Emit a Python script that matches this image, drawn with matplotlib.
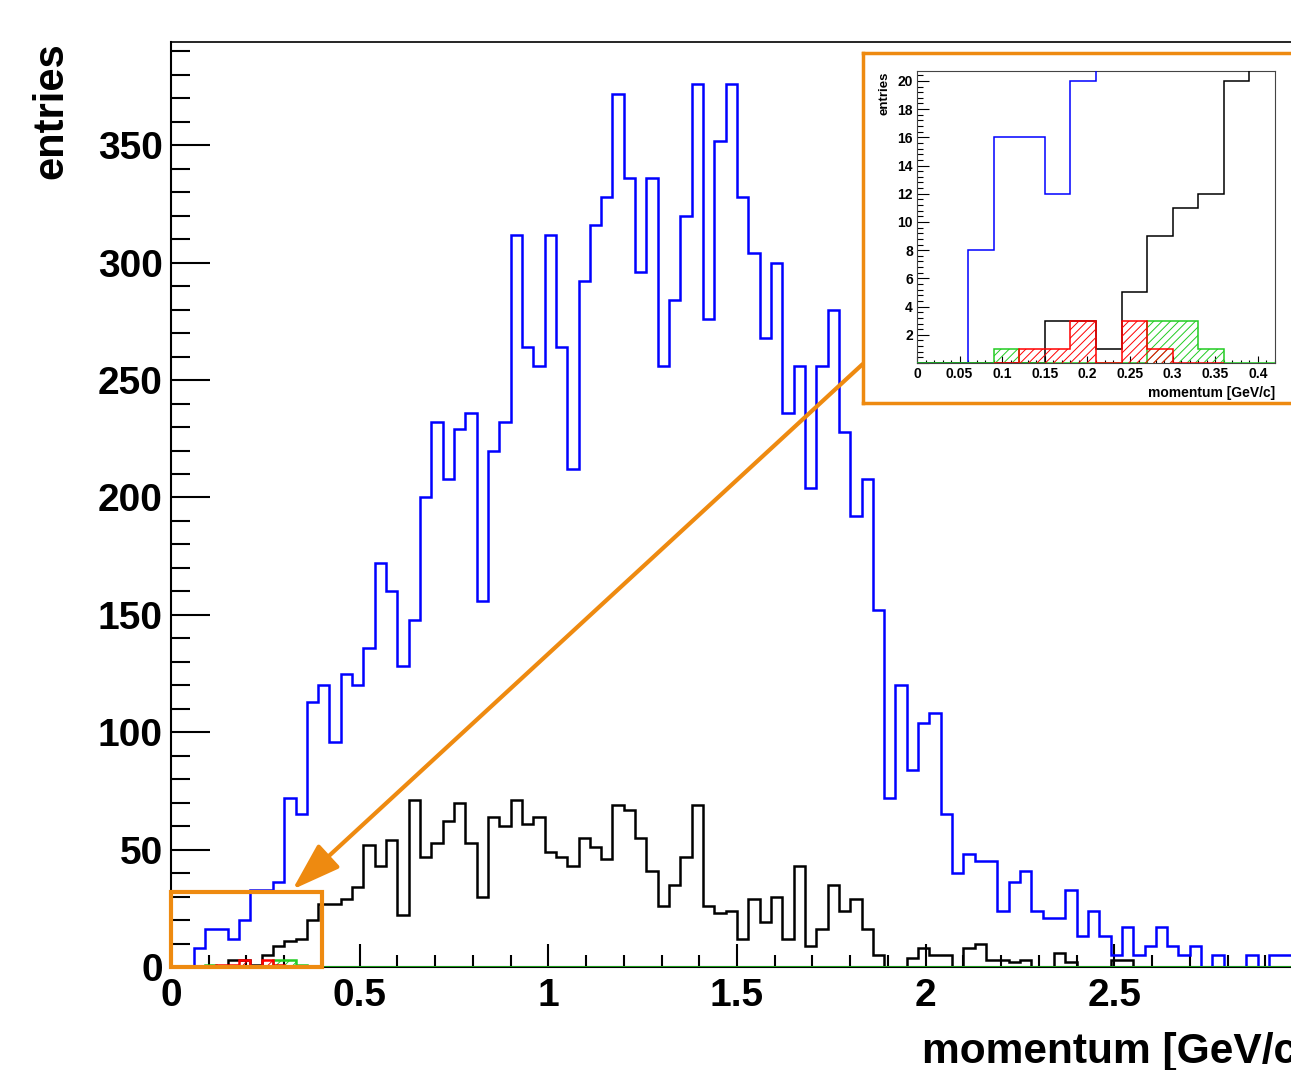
import numpy as np
import matplotlib
matplotlib.use('Agg')
import matplotlib.pyplot as plt
from matplotlib.ticker import MultipleLocator, FuncFormatter
from matplotlib.patches import Rectangle

plt.rcParams['font.family'] = ['Liberation Sans', 'DejaVu Sans']
plt.rcParams['font.weight'] = 'bold'
plt.rcParams['hatch.linewidth'] = 0.7

# 100 bins of 0.03 GeV/c from 0 to 3
edges = np.linspace(0, 3, 101)

blue = [0, 0, 8, 16, 16, 12, 20, 33, 33, 36,
        72, 65, 113, 120, 96, 125, 120, 136, 172, 160,
        128, 148, 200, 232, 208, 229, 236, 156, 220, 232,
        312, 264, 256, 312, 264, 212, 292, 316, 328, 372,
        336, 296, 336, 256, 284, 320, 376, 276, 352, 376,
        328, 304, 268, 300, 236, 256, 204, 256, 280, 228,
        192, 208, 152, 72, 120, 84, 104, 108, 65, 40,
        48, 45, 45, 24, 36, 41, 24, 21, 21, 33,
        13, 24, 13, 5, 17, 5, 9, 17, 9, 5,
        9, 0, 5, 0, 0, 5, 0, 5, 5, 5]

black = [0, 0, 0, 0, 0, 3, 3, 1, 5, 9,
         11, 12, 20, 27, 27, 29, 34, 52, 43, 54,
         22, 71, 47, 53, 62, 70, 53, 30, 64, 60,
         71, 61, 64, 49, 47, 43, 55, 51, 46, 69,
         67, 55, 41, 26, 35, 47, 69, 26, 23, 24,
         12, 29, 19, 30, 12, 43, 9, 16, 35, 24,
         29, 16, 5, 0, 0, 4, 8, 5, 5, 0,
         8, 10, 3, 3, 2, 3, 0, 0, 6, 2,
         0, 0, 0, 3, 3, 0, 0, 0, 0, 0,
         0, 0, 0, 0, 0, 0, 0, 0, 0, 0]

red = [0] * 100
red[4], red[5], red[6], red[8], red[9] = 1, 1, 3, 3, 1

green = [0] * 100
green[3], green[9], green[10], green[11] = 1, 3, 3, 1

W, H = 1291, 1070
ORANGE = '#ee8a10'
GREEN = '#22cc22'

fig = plt.figure(figsize=(W / 100, H / 100), dpi=100)


def px(x0, y0, x1, y1):
    # pixel box (origin top-left) -> figure fraction rect
    return [x0 / W, 1 - y1 / H, (x1 - x0) / W, (y1 - y0) / H]


def draw_hists(a, lw):
    # zorder above the spines so the green baseline shows on the axis
    a.stairs(blue, edges, color='#0000ff', lw=lw, zorder=3)
    a.stairs(black, edges, color='black', lw=lw, zorder=3)
    a.stairs(green, edges, fill=True, facecolor='none', edgecolor=GREEN,
             hatch='////', lw=0, zorder=3)
    a.stairs(green, edges, color=GREEN, lw=lw, zorder=3)
    # red only spans the range where it has entries
    a.stairs(red[3:12], edges[3:13], fill=True, facecolor='none',
             edgecolor='red', hatch='////', lw=0, zorder=3)
    a.stairs(red[3:12], edges[3:13], color='red', lw=lw, zorder=3)


fmt = FuncFormatter(lambda v, p: '' if v > 2.9 else '%g' % v)

# main plot
ax = fig.add_axes(px(171, 42, 1303, 967))
draw_hists(ax, 1.8)
ax.set_xlim(0, 3)
ax.set_ylim(0, 394)
ax.xaxis.set_major_locator(MultipleLocator(0.5))
ax.xaxis.set_minor_locator(MultipleLocator(0.1))
ax.yaxis.set_major_locator(MultipleLocator(50))
ax.yaxis.set_minor_locator(MultipleLocator(10))
ax.xaxis.set_major_formatter(fmt)
ax.tick_params(which='both', direction='in', right=False, top=False,
               width=1.5, labelsize=28)
ax.tick_params(axis='y', which='major', length=28, pad=6)
ax.tick_params(axis='y', which='minor', length=14)
ax.tick_params(axis='x', which='major', length=16.5, pad=8)
ax.tick_params(axis='x', which='minor', length=8.5)
ax.spines['right'].set_visible(False)
ax.spines['left'].set_linewidth(1.5)
ax.spines['bottom'].set_linewidth(1.5)
ax.spines['top'].set_linewidth(1.2)

# zoom box and arrow
ax.add_patch(Rectangle((0, 0), 0.40, 32, fill=False, edgecolor=ORANGE,
                       lw=3, clip_on=False, zorder=5))
ax.annotate('', xy=(0.322, 33), xytext=(1.833, 256.8),
            arrowprops=dict(arrowstyle='-|>,head_length=1.0,head_width=0.33',
                            mutation_scale=30, color=ORANGE, lw=3,
                            shrinkA=0, shrinkB=0), zorder=5)

fig.text(51 / W, 1 - 42 / H, 'entries', rotation=90, ha='center', va='top',
         fontsize=30)
fig.text(1311 / W, 1 - 1063 / H, 'momentum [GeV/c]', ha='right',
         va='baseline', fontsize=30.6)

# orange frame around the inset
frame = fig.add_axes(px(863, 53, 1800, 403))
frame.set_xticks([])
frame.set_yticks([])
for s in frame.spines.values():
    s.set_color(ORANGE)
    s.set_linewidth(2.5)

# inset
ins = fig.add_axes(px(917, 71, 1275, 363))
draw_hists(ins, 1.1)
ins.set_xlim(0, 0.42)
ins.set_ylim(0, 20.7)
ins.xaxis.set_major_locator(MultipleLocator(0.05))
ins.xaxis.set_minor_locator(MultipleLocator(0.01))
ins.yaxis.set_major_locator(MultipleLocator(2))
ins.yaxis.set_minor_locator(MultipleLocator(0.4))
ins.xaxis.set_major_formatter(FuncFormatter(lambda v, p: '%g' % v))
ins.yaxis.set_major_formatter(FuncFormatter(lambda v, p: '' if v == 0 else '%g' % v))
ins.tick_params(which='both', direction='in', right=False, top=False,
                width=0.8, labelsize=10)
ins.tick_params(axis='y', which='major', length=8.5, pad=3)
ins.tick_params(axis='y', which='minor', length=4.3)
ins.tick_params(axis='x', which='major', length=5, pad=3)
ins.tick_params(axis='x', which='minor', length=2.5)
for s in ins.spines.values():
    s.set_linewidth(0.8)
    s.set_color('#444444')

fig.text(885 / W, 1 - 72 / H, 'entries', rotation=90, ha='center', va='top',
         fontsize=9.5)
fig.text(1275 / W, 1 - 397 / H, 'momentum [GeV/c]', ha='right',
         va='baseline', fontsize=10)

fig.savefig('out.png', dpi=100)
